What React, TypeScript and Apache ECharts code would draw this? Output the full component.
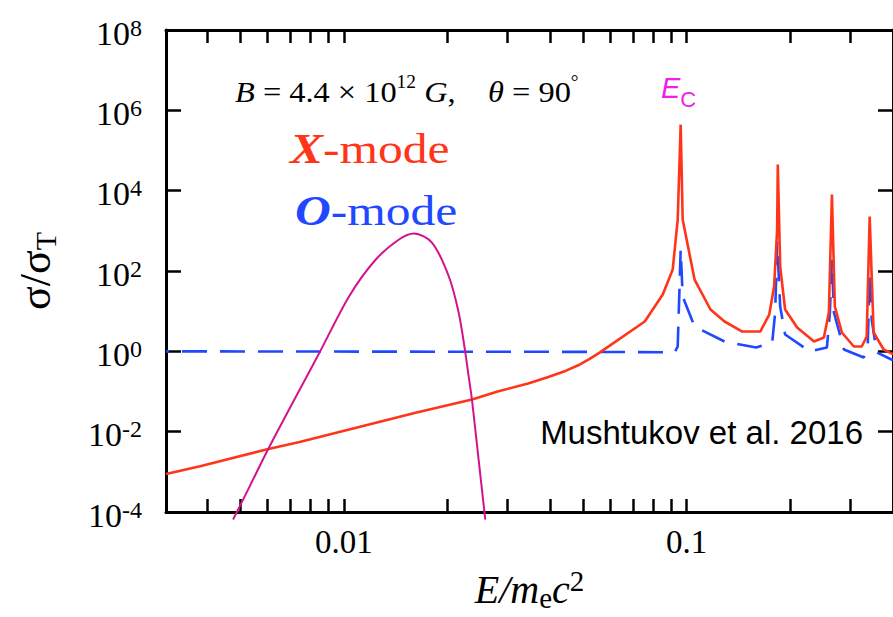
import React, { useEffect, useRef } from 'react';
import * as echarts from 'echarts';

const X_MIN = 0.00303;
const X_MAX = 0.4;
const Y_MIN = 1e-4;
const Y_MAX = 1e8;

const xLabelValues = [0.01, 0.1];
const xTickValues = [0.004, 0.005, 0.006, 0.007, 0.008, 0.009, 0.01, 0.02, 0.03, 0.04, 0.05, 0.06, 0.07, 0.08, 0.09, 0.1, 0.2, 0.3];
const yLabelValues = [1e-4, 1e-2, 1, 1e2, 1e4, 1e6, 1e8];
const yTickValues = [1e-2, 1, 1e2, 1e4, 1e6];

// X-mode cross-section (red, solid)
const xModeEnergy = [0.00303, 0.00381, 0.00594, 0.00743, 0.01037, 0.0162, 0.02366, 0.02827, 0.0345, 0.0395, 0.0445, 0.0483, 0.052, 0.0559, 0.0755, 0.0852, 0.0911, 0.0942, 0.0961, 0.0974, 0.1055, 0.1174, 0.129, 0.1454, 0.164, 0.1742, 0.18, 0.1837, 0.1845, 0.1875, 0.1938, 0.2101, 0.2353, 0.2515, 0.26, 0.2654, 0.2707, 0.2837, 0.3074, 0.3243, 0.3352, 0.342, 0.3512, 0.3756, 0.4];
const xModeSigma = [8.8e-4, 1.38e-3, 3.6e-3, 5.5e-3, 0.0113, 0.0295, 0.0632, 0.1017, 0.158, 0.23, 0.33, 0.45, 0.64, 0.94, 5.53, 26, 109, 1912, 4.4e5, 1912, 61, 11, 5.53, 3.11, 3.11, 8.25, 41, 1078, 4.5e4, 129, 11, 3.92, 1.76, 2.21, 9.25, 8000, 13, 2.94, 1.32, 1.32, 2.34, 2270, 2.94, 1.11, 0.85];

// O-mode cross-section (blue, dashed)
const oModeEnergy = [0.00303, 0.05, 0.0923, 0.0942, 0.0961, 0.0974, 0.1055, 0.129, 0.1596, 0.1777, 0.1813, 0.1837, 0.1875, 0.1938, 0.229, 0.2566, 0.2618, 0.2654, 0.269, 0.2877, 0.3286, 0.3375, 0.342, 0.3467, 0.3584, 0.4];
const oModeSigma = [1.0, 0.97, 0.95, 1.32, 343, 23, 4.15, 1.76, 1.24, 1.66, 9.25, 542, 13, 2.62, 0.99, 1.24, 9.25, 193, 9.25, 1.11, 0.7, 1.32, 92, 6.2, 0.94, 0.6];

// Incident spectrum (magenta)
const spectrumEnergy = [0.004755, 0.00532, 0.00601, 0.0071, 0.00849, 0.01037, 0.0124, 0.01449, 0.01602, 0.0181, 0.02024, 0.02164, 0.02263, 0.02313, 0.02365, 0.02473, 0.02587];
const spectrumFlux = [6.5e-5, 4.4e-4, 3.6e-3, 0.0532, 0.918, 23.6, 193, 608, 857, 503, 74, 9.1, 0.92, 0.24, 0.0632, 2.03e-3, 6.5e-5];

const SERIF = "'Liberation Serif', 'Times New Roman', serif";
const SANS = "'Liberation Sans', Arial, sans-serif";

const zip = (a: number[], b: number[]) => a.map((v, i) => [v, b[i]]);

export default function App() {
  const ref = useRef<HTMLDivElement>(null);
  useEffect(() => {
    document.body.style.margin = '0';
    const chart = echarts.init(ref.current!, null, { renderer: 'svg' });
    const grid = { left: 166, top: 30, width: 730, height: 482.5, show: false };
    const axisLine = { show: true, onZero: false, lineStyle: { color: '#000', width: 3 } };
    const xTick = { show: true, inside: true, length: 13, customValues: xTickValues, lineStyle: { color: '#000', width: 2.5 } };
    const yTick = { show: true, inside: true, length: 15, customValues: yTickValues, lineStyle: { color: '#000', width: 2.5 } };
    const option: any = {
      animation: false,
      grid,
      xAxis: [
        {
          type: 'log', logBase: 10, min: X_MIN, max: X_MAX, position: 'bottom',
          axisLine, axisTick: xTick, minorTick: { show: false }, splitLine: { show: false },
          axisLabel: {
            customValues: xLabelValues, margin: 13, fontSize: 33, fontFamily: SERIF, color: '#000',
            formatter: (v: number) => String(Number(v.toPrecision(2))),
          },
          name: '{i|E/m}{sub|e}{i|c}{sup|2}',
          nameLocation: 'middle', nameGap: 54,
          nameTextStyle: {
            rich: {
              i: { fontSize: 40, fontFamily: SERIF, fontStyle: 'italic', color: '#000', lineHeight: 46 },
              sub: { fontSize: 29, fontFamily: SERIF, color: '#000', lineHeight: 18, verticalAlign: 'bottom' },
              sup: { fontSize: 29, fontFamily: SERIF, color: '#000', lineHeight: 18, verticalAlign: 'top' },
            },
          },
        },
        {
          type: 'log', logBase: 10, min: X_MIN, max: X_MAX, position: 'top',
          axisLine, axisTick: xTick, minorTick: { show: false }, splitLine: { show: false },
          axisLabel: { show: false },
        },
      ],
      yAxis: [
        {
          type: 'log', logBase: 10, min: Y_MIN, max: Y_MAX, position: 'left',
          axisLine, axisTick: yTick, minorTick: { show: false }, splitLine: { show: false },
          axisLabel: {
            customValues: yLabelValues, margin: 24, padding: [6, 0, 0, 0],
            formatter: (v: number) => `{b|10}{s|${Math.round(Math.log10(v))}}`,
            rich: {
              b: { fontSize: 34, fontFamily: SERIF, color: '#000', lineHeight: 35 },
              s: { fontSize: 24, fontFamily: SERIF, color: '#000', lineHeight: 24, verticalAlign: 'top' },
            },
          },
          name: '{s|σ/σ}{t|T}',
          nameLocation: 'middle', nameGap: 106,
          nameTextStyle: {
            rich: {
              s: { fontSize: 44, fontFamily: SERIF, color: '#000', lineHeight: 50 },
              t: { fontSize: 30, fontFamily: SERIF, color: '#000', lineHeight: 20, verticalAlign: 'bottom' },
            },
          },
        },
        {
          type: 'log', logBase: 10, min: Y_MIN, max: Y_MAX, position: 'right',
          axisLine, axisTick: yTick, minorTick: { show: false }, splitLine: { show: false },
          axisLabel: { show: false },
        },
      ],
      series: [
        {
          type: 'line', name: 'O-mode', data: zip(oModeEnergy, oModeSigma), symbol: 'none', z: 2,
          lineStyle: { color: '#1f48ff', width: 2.6, type: [25, 13], dashOffset: 22.3 },
        },
        {
          type: 'line', name: 'X-mode', data: zip(xModeEnergy, xModeSigma), symbol: 'none', z: 3,
          lineStyle: { color: '#ff3519', width: 2.6 },
        },
        {
          type: 'line', name: 'Spectrum', data: zip(spectrumEnergy, spectrumFlux), symbol: 'none', z: 4,
          smooth: 0.3, clip: false,
          lineStyle: { color: '#d2148c', width: 2 },
        },
      ],
      graphic: [
        {
          type: 'text', x: 235, y: 92, scaleX: 1.08,
          style: {
            text: '{i|B}{r| = 4.4 × 10}{s|12}{i| G}{r|,    }{i|θ}{r| = 90}{s|°}',
            align: 'left', verticalAlign: 'middle',
            rich: {
              i: { fontSize: 30, fontFamily: SERIF, fontStyle: 'italic', fill: '#000', lineHeight: 38 },
              r: { fontSize: 30, fontFamily: SERIF, fill: '#000', lineHeight: 38 },
              s: { fontSize: 18, fontFamily: SERIF, fill: '#000', lineHeight: 18, verticalAlign: 'top' },
            },
          },
        },
        {
          type: 'text', x: 290, y: 149, scaleX: 1.18,
          style: {
            text: '{i|X}{r|-mode}', align: 'left', verticalAlign: 'middle',
            rich: {
              i: { fontSize: 42, fontFamily: SERIF, fontStyle: 'italic', fontWeight: 'bold', fill: '#ff3519' },
              r: { fontSize: 42, fontFamily: SERIF, fill: '#ff3519' },
            },
          },
        },
        {
          type: 'text', x: 295, y: 211, scaleX: 1.18,
          style: {
            text: '{i|O}{r|-mode}', align: 'left', verticalAlign: 'middle',
            rich: {
              i: { fontSize: 42, fontFamily: SERIF, fontStyle: 'italic', fontWeight: 'bold', fill: '#1f48ff' },
              r: { fontSize: 42, fontFamily: SERIF, fill: '#1f48ff' },
            },
          },
        },
        {
          type: 'text', x: 661, y: 88,
          style: {
            text: '{e|E}{c|C}', align: 'left', verticalAlign: 'middle',
            rich: {
              e: { fontSize: 29, fontFamily: SANS, fontStyle: 'italic', fill: '#f020e8', lineHeight: 44 },
              c: { fontSize: 22, fontFamily: SANS, fill: '#f020e8', lineHeight: 21, verticalAlign: 'bottom' },
            },
          },
        },
        {
          type: 'text', x: 863, y: 432,
          style: {
            text: 'Mushtukov et al. 2016', align: 'right', verticalAlign: 'middle',
            fontSize: 33, fontFamily: SANS, fill: '#000',
          },
        },
      ],
    };
    chart.setOption(option);
    return () => chart.dispose();
  }, []);
  return <div ref={ref} style={{ position: 'absolute', left: 0, top: 0, width: 893, height: 617 }} />;
}
